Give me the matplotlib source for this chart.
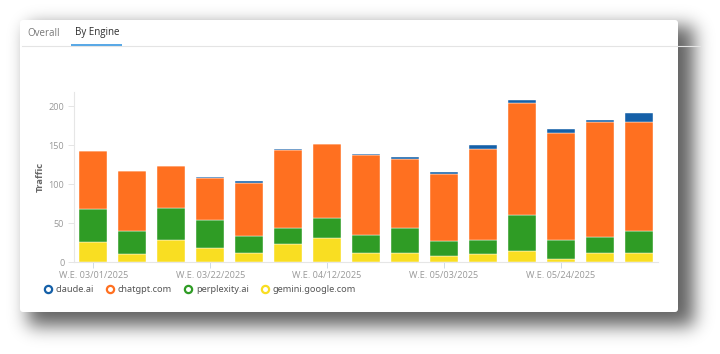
import matplotlib
matplotlib.use("Agg")
import matplotlib.pyplot as plt
import numpy as np
from matplotlib.patches import FancyBboxPatch, Rectangle
from matplotlib.lines import Line2D

plt.rcParams["font.family"] = ["Open Sans", "DejaVu Sans"]

weeks = ["03/01/2025", "03/08/2025", "03/15/2025", "03/22/2025", "03/29/2025",
         "04/05/2025", "04/12/2025", "04/19/2025", "04/26/2025", "05/03/2025",
         "05/10/2025", "05/17/2025", "05/24/2025", "05/31/2025", "06/07/2025"]
gemini = [26, 10, 29, 18, 12, 24, 31, 11.5, 12, 8.5, 10, 14.5, 4, 12, 12]
perplexity = [42, 30, 40, 36, 22, 20, 25.5, 23.5, 32, 19, 18, 46.5, 25, 20, 28]
chatgpt = [74, 77.5, 54, 54, 67, 100, 94.5, 102, 88.5, 85, 117.5, 143, 136.5, 147.5, 139]
claude = [0.5, 0, 0, 1.3, 3.5, 0.5, 1, 2, 2.5, 3.5, 4.5, 4, 5, 2.5, 12.5]

engines = ["claude.ai", "chatgpt.com", "perplexity.ai", "gemini.google.com"]
colors = {"claude.ai": "#1560a8", "chatgpt.com": "#ff7020",
          "perplexity.ai": "#2f9c25", "gemini.google.com": "#f9de22"}

W, H = 720, 354
fig = plt.figure(figsize=(W / 100, H / 100), dpi=100)
fig.patch.set_facecolor("white")

# background: card shadow + card
bg = fig.add_axes([0, 0, 1, 1], zorder=0)
bg.set_xlim(0, W)
bg.set_ylim(H, 0)
bg.axis("off")

mask = np.zeros((H, W))
mask[26:326, 28:694] = 1.0
s = 9.0
k = np.exp(-np.arange(-30, 31) ** 2 / (2 * s * s))
k /= k.sum()
blur = np.apply_along_axis(lambda r: np.convolve(r, k, mode="same"), 1, mask)
blur = np.apply_along_axis(lambda c: np.convolve(c, k, mode="same"), 0, blur)
shadow = np.ones((H, W, 4))
shadow[..., :3] = 0.0
shadow[..., 3] = blur * 0.62
bg.imshow(shadow, extent=(0, W, H, 0), interpolation="bilinear", zorder=1)
bg.add_patch(FancyBboxPatch((20, 20), 658, 292, boxstyle="round,pad=0,rounding_size=3",
                            facecolor="white", edgecolor="none", zorder=2))

# tabs
bg.text(27, 33, "Overall", fontsize=7, color="#777777", va="center", ha="left", zorder=3)
bg.text(75, 33, "By Engine", fontsize=7, color="#2b2b2b", va="center", ha="left",
        fontweight="medium", zorder=3)
bg.plot([22, 700], [45.5, 45.5], color="#e4e4e4", lw=0.8, zorder=3)
bg.add_patch(Rectangle((71, 43.5), 51, 2, facecolor="#5aa9e6", edgecolor="none", zorder=4))

# main chart
ax = fig.add_axes([74 / W, 1 - 262.3 / H, 584 / W, (262.3 - 92) / H], zorder=5)
ax.set_facecolor("none")
x = np.arange(len(weeks))
bottom = np.zeros(len(weeks))
for name, vals in [("gemini.google.com", gemini), ("perplexity.ai", perplexity),
                   ("chatgpt.com", chatgpt), ("claude.ai", claude)]:
    ax.bar(x, vals, width=0.72, bottom=bottom, color=colors[name],
           edgecolor="white", linewidth=0.3)
    bottom += np.array(vals)

ax.set_xlim(-0.5, len(weeks) - 0.5)
ax.set_ylim(0, 218)
ax.set_yticks([0, 50, 100, 150, 200])
tick_idx = list(range(0, len(weeks), 3))
ax.set_xticks(tick_idx)
ax.set_xticklabels(["W.E. " + weeks[i] for i in tick_idx])
ax.tick_params(axis="both", labelsize=6.6, colors="#999999", length=4, width=0.6)
ax.tick_params(axis="x", color="#c8d4e0", pad=2)
ax.tick_params(axis="y", color="#e0e0e0", pad=3)
for sp in ["top", "right"]:
    ax.spines[sp].set_visible(False)
for sp in ["left", "bottom"]:
    ax.spines[sp].set_color("#e6e6e6")
    ax.spines[sp].set_linewidth(0.8)
ax.set_ylabel("Traffic", fontsize=6.8, color="#666666", fontweight="bold", labelpad=3)

handles = [Line2D([], [], marker="o", linestyle="none", markersize=5.2,
                  markerfacecolor="white", markeredgecolor=colors[e],
                  markeredgewidth=1.6, label=e) for e in engines]
fig.legend(handles=handles, loc="center left", bbox_to_anchor=(36 / W, 1 - 290 / H),
           ncol=4, frameon=False, handlelength=0.8, handletextpad=0.45,
           columnspacing=1.35, labelcolor="#555555",
           prop={"family": ["Noto Sans", "DejaVu Sans"], "size": 6.6})

fig.savefig("out.png", dpi=100, facecolor="white")
